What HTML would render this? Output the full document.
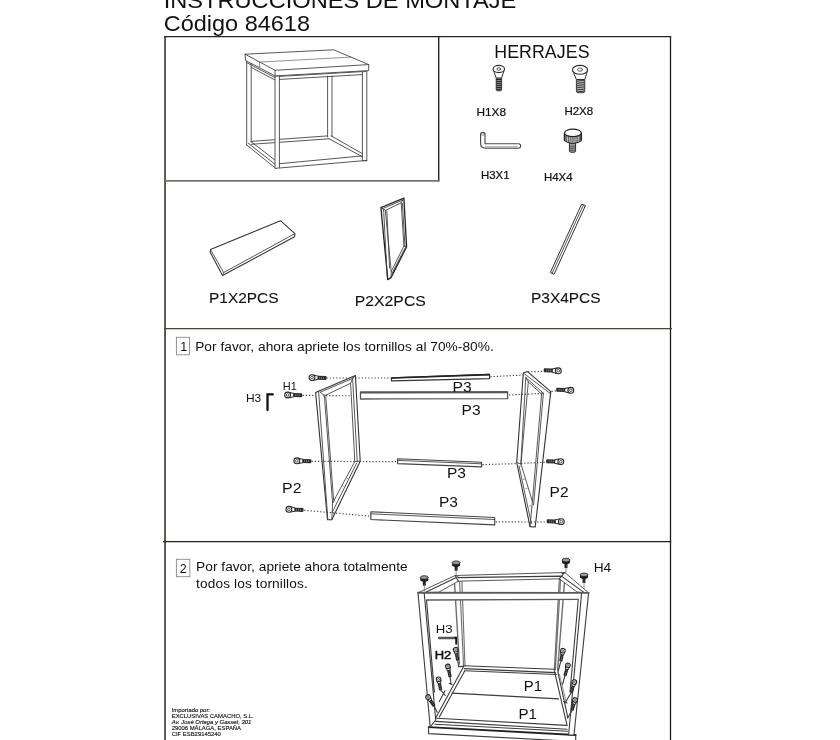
<!DOCTYPE html>
<html lang="es">
<head>
<meta charset="utf-8">
<title>Instrucciones de montaje - Código 84618</title>
<style>
html,body{margin:0;padding:0;background:#fff;}
body{width:840px;height:740px;overflow:hidden;position:relative;font-family:"Liberation Sans",Arial,Helvetica,sans-serif;}
svg{position:absolute;left:0;top:0;display:block;will-change:transform;}
text{font-family:"Liberation Sans",Arial,Helvetica,sans-serif;fill:#111;}
.tb text,text.tb{stroke:#111;stroke-width:0.2;}
.b{fill:none;stroke:#3a2f2c;stroke-width:1.4;}
.l{fill:none;stroke:#444;stroke-width:0.9;stroke-linecap:round;stroke-linejoin:round;}
.lt{fill:none;stroke:#666;stroke-width:0.7;stroke-linecap:round;stroke-linejoin:round;}
.lg{fill:none;stroke:#6e6e6e;stroke-width:1.1;stroke-linecap:round;}
.l2{fill:none;stroke:#3c3c3c;stroke-width:1.1;stroke-linecap:round;stroke-linejoin:round;}
.lk{fill:none;stroke:#222;stroke-width:1.3;stroke-linecap:round;stroke-linejoin:round;}
.w{fill:#fff;stroke:#444;stroke-width:0.9;stroke-linejoin:round;}
.d{fill:none;stroke:#4a4a4a;stroke-width:1.15;stroke-dasharray:1.3 1.9;}
.k{fill:#222;stroke:none;}
</style>
</head>
<body>
<svg width="840" height="740" viewBox="0 0 840 740">
<!-- ===== frame borders ===== -->
<g id="borders" fill="none">
<path d="M165.05 745V36.6" stroke="#58534d" stroke-width="1.9"/>
<path d="M670.5 745V36" stroke="#211c1a" stroke-width="1.3"/>
<path d="M164.2 36.55H671.1" stroke="#2b2220" stroke-width="1.25"/>
<path d="M438.7 36.6V181.6" stroke="#2a2222" stroke-width="1.4"/>
<path d="M165 180.9H439.4" stroke="#77736a" stroke-width="1.9"/>
<path d="M164.4 328.65H672" stroke="#5a3a32" stroke-width="1.3"/>
<path d="M163 541.5H671.2" stroke="#2a1c1a" stroke-width="1.25"/>
</g>
<!-- ===== headings ===== -->
<g id="headings">
<text x="163.7" y="8" font-size="22.6" textLength="352.6" lengthAdjust="spacingAndGlyphs">INSTRUCCIONES DE MONTAJE</text>
<text x="163.7" y="30.9" font-size="22.4" textLength="146.3" lengthAdjust="spacingAndGlyphs">Código 84618</text>
<text x="494.3" y="57.9" font-size="17.8" textLength="95.2" lengthAdjust="spacing">HERRAJES</text>
</g>
<!-- ===== hardware labels ===== -->
<g id="hwlabels" font-size="10.6" class="tb">
<text x="476.4" y="116.3" textLength="29.6" lengthAdjust="spacingAndGlyphs">H1X8</text>
<text x="564.4" y="114.6" textLength="28.8" lengthAdjust="spacingAndGlyphs">H2X8</text>
<text x="481" y="179.3" textLength="28.6" lengthAdjust="spacingAndGlyphs">H3X1</text>
<text x="544" y="180.6" textLength="28.6" lengthAdjust="spacingAndGlyphs">H4X4</text>
</g>
<!-- ===== parts labels ===== -->
<g id="partlabels" font-size="14" style="stroke:#111;stroke-width:0.1">
<text x="209" y="303" textLength="69.6" lengthAdjust="spacingAndGlyphs">P1X2PCS</text>
<text x="354.8" y="306" textLength="71" lengthAdjust="spacingAndGlyphs">P2X2PCS</text>
<text x="531" y="302.6" textLength="69.6" lengthAdjust="spacingAndGlyphs">P3X4PCS</text>
</g>
<!-- ===== step text ===== -->
<g id="steps" font-size="13.7">
<rect x="176.4" y="337.3" width="13.1" height="17.5" fill="#fff" stroke="#8a8a8a" stroke-width="0.9"/>
<text x="180.3" y="350.6" font-size="12.5">1</text>
<text x="195.2" y="350.5" textLength="298.5">Por favor, ahora apriete los tornillos al 70%-80%.</text>
<rect x="176.4" y="559.3" width="13.4" height="17.4" fill="#fff" stroke="#8a8a8a" stroke-width="0.9"/>
<text x="179.8" y="572.6" font-size="12.5">2</text>
<text x="196.1" y="571.1" textLength="211.6">Por favor, apriete ahora totalmente</text>
<text x="196.1" y="587.9" textLength="111.6">todos los tornillos.</text>
</g>
<!-- ===== importer footer ===== -->
<g id="footer" font-size="5.9" style="stroke:#222;stroke-width:0.15">
<text x="171.7" y="711.7">Importado por:</text>
<text x="171.7" y="717.7" textLength="82">EXCLUSIVAS CAMACHO, S.L.</text>
<text x="171.7" y="723.7" font-style="italic">Av. José Ortega y Gasset, 301</text>
<text x="171.7" y="729.7">29006 MÁLAGA, ESPAÑA</text>
<text x="171.7" y="735.7">CIF ESB29145240</text>
</g>
<!-- ===== product illustration: side table ===== -->
<g id="table">
<!-- table back legs -->
<path class="l" d="M246.7 61V145M251.2 62V142"/>
<path class="l" d="M327.6 76V137M332 76V136.4"/>
<!-- table bottom frame back + sides -->
<path class="l" d="M251.2 141.4L327.6 135.9M251.2 144.3L329 138.8"/>
<path class="l" d="M246.7 145L275.6 168.3M248.3 143.3L275 164.2M251.2 141.7L275.6 160.6"/>
<path class="l" d="M331 135.8L363 154M329 138.8L361.8 156.4"/>
<!-- table upper side rail -->
<path class="l" d="M246.8 62.6L275 77.6M251.2 67.4L275 80"/>
<!-- table front legs -->
<path class="w" d="M275 76V168.6L279.4 167.8V76Z"/>
<path class="w" d="M362.4 72V160.6L366.8 161V71Z"/>
<!-- table front rails -->
<path class="l" d="M279.4 76.4L362.4 71.6M279.6 79.4L362.4 74.6"/>
<path class="l" d="M279.4 163.7L362.4 155.9M279.4 168L366.8 160.4"/>
<!-- table top -->
<path class="w" d="M245.1 54.2L333.7 49.8L368.7 64.6V70.6L275 75.9L245.5 60.4Z"/>
<path class="l" d="M245.1 54.2L275 70.3L368.7 64.6M275 70.3V75.9"/>
<path class="lt" d="M259.6 62.1L351 57.1M259.6 62.1V67.8"/>
</g>
<!-- ===== hardware icons ===== -->
<g id="hw">
<!-- H1 countersunk screw -->
<g>
<rect x="496.2" y="77" width="5.4" height="13.8" rx="1.2" fill="#8a8a8a" stroke="#2e2e2e" stroke-width="0.9"/>
<path d="M496.2 79.5h5.4M496.2 81.5h5.4M496.2 83.5h5.4M496.2 85.5h5.4M496.2 87.5h5.4M496.2 89.3h5.4" stroke="#222" stroke-width="1" fill="none"/>
<path d="M493.2 69.5L496.2 78H501.6L504.4 69.5Z" fill="#fff" stroke="#2e2e2e" stroke-width="1" stroke-linejoin="round"/>
<ellipse cx="498.8" cy="69" rx="5.7" ry="3.6" fill="#fff" stroke="#2e2e2e" stroke-width="1.1"/>
<ellipse class="l" cx="498.8" cy="69" rx="1.9" ry="1.3"/>
</g>
<!-- H2 countersunk screw (larger) -->
<g>
<rect x="576.4" y="78.5" width="8.4" height="14.2" rx="1.8" fill="#b5b5b5" stroke="#2e2e2e" stroke-width="0.9"/>
<path d="M576.6 81.2l8 -1M576.6 83.4l8 -1M576.6 85.6l8 -1M576.6 87.8l8 -1M576.6 90l8 -1M577 92l7.4 -.9" stroke="#2a2a2a" stroke-width="0.9" fill="none"/>
<path d="M572.6 70.5L576.4 79.5H584.8L587.6 70.5Z" fill="#fff" stroke="#2e2e2e" stroke-width="1" stroke-linejoin="round"/>
<ellipse cx="580" cy="69.8" rx="7.6" ry="4.4" fill="#fff" stroke="#2e2e2e" stroke-width="1.1"/>
<ellipse class="l" cx="580" cy="69.6" rx="2.5" ry="1.6"/>
</g>
<!-- H3 allen key -->
<g>
<path d="M482.8 134.5V143.6Q482.8 146 485.6 146H518.4" fill="none" stroke="#4a4a4a" stroke-width="5.6" stroke-linecap="round" stroke-linejoin="round"/>
<path d="M482.8 134.5V143.6Q482.8 146 485.6 146H518.4" fill="none" stroke="#fff" stroke-width="3.3" stroke-linecap="round" stroke-linejoin="round"/>
<path class="lt" d="M485.4 146.9H517.6"/>
<ellipse class="lt" cx="482.8" cy="134.2" rx="1.9" ry="1.1"/>
</g>
<!-- H4 knurled knob -->
<g>
<rect x="569.4" y="142.6" width="6.2" height="9.6" rx="1.4" fill="#a5a5a5" stroke="#2a2a2a" stroke-width="1"/>
<path d="M569.6 146.2h5.8M569.6 148.2h5.8M569.6 150.2h5.8" stroke="#333" stroke-width="0.8"/>
<clipPath id="knobside"><path d="M564.5 133V140.6Q572.9 146.8 581.3 140.6V133Z"/></clipPath>
<path d="M564.5 133V140.6Q572.9 146.8 581.3 140.6V133Z" fill="#fff" stroke="#222" stroke-width="1.1" stroke-linejoin="round"/>
<path d="M566.2 132V148M568.2 132V148M570.1 132V148M572.1 132V148M574.0 132V148M576.0 132V148M577.9 132V148M579.9 132V148" stroke="#222" stroke-width="0.95" fill="none" clip-path="url(#knobside)"/>
<path d="M564.6 133V140.6M581.2 133V140.6" stroke="#222" stroke-width="1.6" fill="none"/>
<ellipse cx="572.9" cy="132.9" rx="8.4" ry="3.8" fill="#fdfdfd" stroke="#222" stroke-width="1.2"/>
</g>
</g>
<!-- ===== parts list drawings ===== -->
<g id="parts">
<!-- P1 board -->
<path class="w" style="stroke:#333;stroke-width:1.05" d="M210.5 249.5L280.5 220.7L294.9 233.6L294.6 236.8L222.5 275.5L210.2 252.2Z"/>
<path class="l" d="M210.5 249.5L223.6 272.6L294.9 233.6M223.6 272.6L222.5 275.5"/>
<!-- P2 frame -->
<path class="lk" d="M380.9 207.6L403.9 198.1L406.6 246.8L391 277.6L387.8 279.6Z"/>
<path class="l" d="M385.7 210.3L401.2 202.8L403.9 246.1L391.4 271.1Z"/>
<path class="l" d="M382.6 208.6L403 200M383.6 209.4L387.2 277M401.2 202.8L403.9 198.1M385.7 210.3L380.9 207.6M403.9 246.1L406.6 246.8M391.4 271.1L391 277.6M386.8 211L389.6 268M402.4 203.4L405 246.4M392.4 272.6L405.4 247.4"/>
<!-- P3 bar -->
<path class="w" style="stroke:#333;stroke-width:1" d="M581.6 204.2L585.4 205.6L554 274.4L550.4 272.4Z"/>
<path class="l" d="M583.4 205L552 273.4"/>
</g>
<!-- ===== step 1 exploded view ===== -->
<defs>
<g id="scr">
<rect x="5.2" y="-2" width="9.4" height="4" rx="1" fill="#2a2a2a"/>
<path d="M7.6 -0.9v1.8M9.6 -0.9v1.8M11.6 -0.9v1.8" stroke="#aaa" stroke-width="0.6" fill="none"/>
<path d="M1.6 -2.7L6 -1.7V1.7L1.6 2.7Z" fill="#fff" stroke="#2a2a2a" stroke-width="1" stroke-linejoin="round"/>
<circle cx="0" cy="0" r="2.9" fill="#fff" stroke="#2a2a2a" stroke-width="1.1"/>
<circle cx="0" cy="0" r="1.3" fill="none" stroke="#333" stroke-width="0.8"/>
</g>
</defs>
<g id="step1">
<!-- left P2 frame -->
<path class="w" style="stroke:#333;stroke-width:1.1" d="M315.6 392.4L355.4 375.5L360.2 461.2L331.8 519.7L327.5 519.7Z"/>
<path class="w" d="M324.4 395.8L350.6 383.3L354.8 461.6L332.6 503Z"/>
<path class="l" d="M318.6 391.2L327.8 519.4M320.4 392.2L352.6 378.4L355.4 375.5M352.6 378.4L357.2 460.8M324.4 395.8L320.4 392.2M354.8 461.6L360.2 461.2M356.6 463.2L332.2 512.4M332.6 503L331.8 519.7"/>
<path class="l" d="M325.8 396.8L333.6 500M350.6 383.3L352.6 378.4"/>
<circle cx="324.2" cy="395.6" r="0.9" class="lt"/>
<path class="lt" d="M346.6 477.6l1 .8M342.4 485.6l1 .8M334 500.8l1 .8M332.6 512.5l1 .8"/>
<!-- right P2 frame -->
<path class="w" style="stroke:#333;stroke-width:1.1" d="M523.3 373L527.5 371.6L550.8 391.6L535.2 527L530 526.6L516.7 462.5Z"/>
<path class="w" d="M528.3 381.8L541.6 394.2L532.4 501.6L521 464Z"/>
<path class="l" d="M523.3 373L549.6 393M525.8 377.6L520.8 464.2M525.8 377.6L528.3 381.8M525.8 377.6L543.4 393.2L541.6 394.2M543.4 393.2L533.6 505M549.6 393L550.8 391.6M516.7 462.5L521 464M519 466L531.4 523.6M532.4 501.6L530 526.6"/>
<circle cx="541.6" cy="393.6" r="0.9" class="lt"/>
<path class="lt" d="M519.6 466.4l1.6 -.4M523.4 479.4l1.2 -.3M525.8 488.6l1.2 -.3M529.6 506l1.2 -.3"/>
<!-- dotted guide lines -->
<path class="d" d="M326.5 378L391 378M490.4 376.7L523.3 375M528 371.9L543.8 371.3"/>
<path class="d" d="M302.6 395.3L315 395.3M326 395.6L350 395.8M360.4 395.6L360.6 395.6M509 395L541.7 393.4M551.5 391.4L556 390.9"/>
<path class="d" d="M311.6 461.3L397 461.7M482.4 464.6L517 463.6M521 463.4L545.6 462.3"/>
<path class="d" d="M304.2 510.3L370.4 516.2M495.6 521.9L546.4 522"/>
<!-- P3 bars -->
<path d="M391.5 377.8L489.6 374.4V378.6L391.5 380.8Z" fill="#fff" stroke="#333" stroke-width="1.2" stroke-linejoin="round"/>
<path d="M391.5 378L489.6 374.6" fill="none" stroke="#222" stroke-width="1.7"/>
<path d="M360.5 392.2L507.6 391.8V398.6L360.5 399Z" fill="#fff" stroke="#555" stroke-width="1.3" stroke-linejoin="round"/>
<path d="M360.5 392.6L507.6 392.2" fill="none" stroke="#555" stroke-width="2"/>
<path d="M397.6 458.8L481.6 462.2V466.9L397.6 463.6Z" fill="#fff" stroke="#444" stroke-width="1.1" stroke-linejoin="round"/>
<path class="l" d="M397.6 460.4L481.6 463.8"/>
<path d="M370.8 511.8L494.7 517.5V524.9L370.8 519.5Z" fill="#fff" stroke="#444" stroke-width="1.1" stroke-linejoin="round"/>
<path class="l" d="M370.8 513.8L494.7 519.5"/>
<!-- screws -->
<use href="#scr" transform="translate(312 377.6) rotate(2)"/>
<use href="#scr" transform="translate(287.6 395) rotate(1)"/>
<use href="#scr" transform="translate(296.8 460.8) rotate(2)"/>
<use href="#scr" transform="translate(288.9 509.3) rotate(3)"/>
<use href="#scr" transform="translate(558.3 370.8) scale(-1 1) rotate(-2)"/>
<use href="#scr" transform="translate(570.8 390.3) scale(-1 1) rotate(-2)"/>
<use href="#scr" transform="translate(560.8 461.7) scale(-1 1) rotate(-2)"/>
<use href="#scr" transform="translate(561.3 521.6) scale(-1 1) rotate(-1)"/>
<!-- H3 allen key glyph -->
<path d="M267.5 410V394.4H272.8" fill="none" stroke="#111" stroke-width="2.3" stroke-linecap="round" stroke-linejoin="miter"/>
<!-- labels -->
<g>
<text x="245.9" y="402.0" font-size="11.2" textLength="15.3" lengthAdjust="spacingAndGlyphs">H3</text>
<text x="282.8" y="390.0" font-size="11.0" textLength="14.0" lengthAdjust="spacingAndGlyphs">H1</text>
<text x="452.6" y="391.7" font-size="14.2" textLength="19.2" lengthAdjust="spacingAndGlyphs">P3</text>
<text x="461.6" y="414.5" font-size="14.2" textLength="19.0" lengthAdjust="spacingAndGlyphs">P3</text>
<text x="447.0" y="478.4" font-size="14.2" textLength="19.0" lengthAdjust="spacingAndGlyphs">P3</text>
<text x="438.9" y="507.3" font-size="14.2" textLength="19.0" lengthAdjust="spacingAndGlyphs">P3</text>
<text x="282.1" y="492.5" font-size="14.2" textLength="19.4" lengthAdjust="spacingAndGlyphs">P2</text>
<text x="549.6" y="497.0" font-size="14.2" textLength="19.0" lengthAdjust="spacingAndGlyphs">P2</text>
</g>
</g>
<!-- ===== step 2 assembled frame ===== -->
<defs>
<g id="knob">
<rect x="-1.5" y="1.6" width="3" height="5" fill="#2a2a2a"/>
<path d="M-4 -1.6V1.5Q0 4.4 4 1.5V-1.6Z" fill="#1e1e1e"/>
<ellipse cx="0" cy="-1.5" rx="4" ry="1.8" fill="#9a9a9a" stroke="#1e1e1e" stroke-width="0.8"/>
</g>
<g id="scr2">
<rect x="3.4" y="-1.6" width="7.6" height="3.2" rx="0.7" fill="#222"/>
<path d="M5.6 -0.7v1.4M7.4 -0.7v1.4M9.2 -0.7v1.4" stroke="#aaa" stroke-width="0.5" fill="none"/>
<path d="M1.2 -2.1L4.2 -1.4V1.4L1.2 2.1Z" fill="#fff" stroke="#222" stroke-width="0.9" stroke-linejoin="round"/>
<circle cx="0" cy="0" r="2.3" fill="#fff" stroke="#222" stroke-width="1.1"/>
<circle cx="0" cy="0" r="0.9" fill="none" stroke="#333" stroke-width="0.7"/>
</g>
</defs>
<g id="step2">
<!-- back legs -->
<path class="lg" style="stroke-width:1.4" d="M454.6 584L459.4 664"/>
<path class="lg" d="M459.6 581L463.6 666.4M461.9 581L465 665.7"/>
<path class="lg" d="M559.3 578.6L554.3 670M560.6 579L555.4 670"/>
<path class="lg" style="stroke-width:1.4" d="M564.4 583.4L557.6 670"/>
<!-- bottom frame -->
<path class="l2" d="M463.6 665.8L554.5 669.2M464.3 668.6L555.5 672.6M465 670.7L556.5 674.5"/>
<path class="l2" d="M463.6 666.4L435.7 717.9M464.8 670.7L439.3 717.1"/>
<path class="l2" d="M554.3 670.7L567.1 725.7M557.9 672.1L567.9 717.9"/>
<path class="lt" d="M559.4 674.4L566.4 702.6"/>
<path class="l2" d="M452.2 693.1L558.6 698.9"/>
<path class="l2" d="M436.4 718.3L566.4 725.4M435.7 721.4L567.1 729.3M435 724.3L567.5 731.2"/>
<path d="M428.6 727.1L575.7 735" fill="none" stroke="#222" stroke-width="1.8" stroke-linecap="round"/>
<path class="l2" d="M428.6 727.1V733.6L575 741.4M575.7 735V741"/>
<!-- top frame: side + back rails -->
<path class="w" d="M418 592.8L455.2 575.5L564.8 572.5L588.7 593L577.1 592L559.3 578.8L458.4 581.2L438.8 592.2Z"/>
<path class="l2" d="M424.2 592.9L457.9 576.8M458.3 577.6L561.4 576.1L584.3 592.6M562.1 573.6L565 572.4M455.2 575.5L458.4 581.2M564.8 572.5L559.3 578.8"/>
<!-- step2 front legs -->
<path d="M418 592.8L430.2 727L435.7 720L434.4 692L426.4 599.6L426 592.8Z" fill="#fff"/>
<path class="l2" d="M418 592.8L430.2 727L435.7 720M424.2 592.9L435.7 720M426.5 599.6L434.4 692"/>
<path d="M588.6 592.9L574 735L568.6 735L570 692L578.3 599.3L580 592.9Z" fill="#fff"/>
<path class="l2" d="M588.6 592.9L574 735L568.6 735M581.6 593L568.6 735M578.3 599.3L570 692"/>
<!-- front top rail -->
<path d="M426 592.8H580L578.3 599.4L426.5 600Z" fill="#fff"/>
<path d="M418 592.7L588.7 592.9" fill="none" stroke="#5a5a5a" stroke-width="1.9" stroke-linecap="round"/>
<path d="M426.5 600L578.3 599.4" fill="none" stroke="#5a5a5a" stroke-width="1.3"/>
<!-- knobs H4 -->
<use href="#knob" transform="translate(424.3 579)"/>
<use href="#knob" transform="translate(456.1 564.2)"/>
<use href="#knob" transform="translate(566 561.6)"/>
<use href="#knob" transform="translate(584 576.3)"/>
<path class="lt" d="M424.3 586.5V591M456.1 571.6V575M566 569V572.4M584 583.6V588.6"/>
<!-- screws H2 left -->
<use href="#scr2" transform="translate(455.7 649.7) rotate(79.5)"/>
<use href="#scr2" transform="translate(447.9 666.4) rotate(78)"/>
<use href="#scr2" transform="translate(438.6 679.3) rotate(79)"/>
<use href="#scr2" transform="translate(428.1 697.1) rotate(56)"/>
<path class="l2" d="M457.7 660.6L458.6 666.6L462.6 666.4M450.1 677L451.1 684.6M449.4 683.4l2.8 .8M440.5 689.8L445.2 695.4M445 690.7L439.3 701.4M434.4 706.6L437.2 712.2"/>
<!-- screws H2 right -->
<use href="#scr2" transform="translate(562.9 650.7) rotate(101.5)"/>
<use href="#scr2" transform="translate(567.9 665.4) rotate(106)"/>
<use href="#scr2" transform="translate(574.3 682.1) rotate(106)"/>
<use href="#scr2" transform="translate(575 700) rotate(106)"/>
<path class="l2" d="M560.6 662L558 672M564.8 676L562.6 684.4M571.2 692.6L565 703M563.6 701.6l3.4 1.4M572 710.6L567.6 718"/>
<!-- H3 key -->
<path d="M439 638H455.4" fill="none" stroke="#555" stroke-width="2.3" stroke-linecap="round"/>
<path d="M454.6 637.8H456.2V644.4" fill="none" stroke="#111" stroke-width="1.9" stroke-linejoin="miter"/>
<!-- labels -->
<g>
<text x="593.7" y="571.9" font-size="12.3" textLength="17.6" lengthAdjust="spacingAndGlyphs">H4</text>
<text x="435.8" y="632.7" font-size="11.8" textLength="16.8" lengthAdjust="spacingAndGlyphs">H3</text>
<text style="stroke:#111;stroke-width:0.5" x="434.7" y="658.9" font-size="11.7" textLength="16.6" lengthAdjust="spacingAndGlyphs">H2</text>
<text x="523.8" y="690.7" font-size="13.8" textLength="18.2" lengthAdjust="spacingAndGlyphs">P1</text>
<text x="518.5" y="719.3" font-size="13.8" textLength="18.5" lengthAdjust="spacingAndGlyphs">P1</text>
</g>
</g>
</svg>
</body>
</html>
